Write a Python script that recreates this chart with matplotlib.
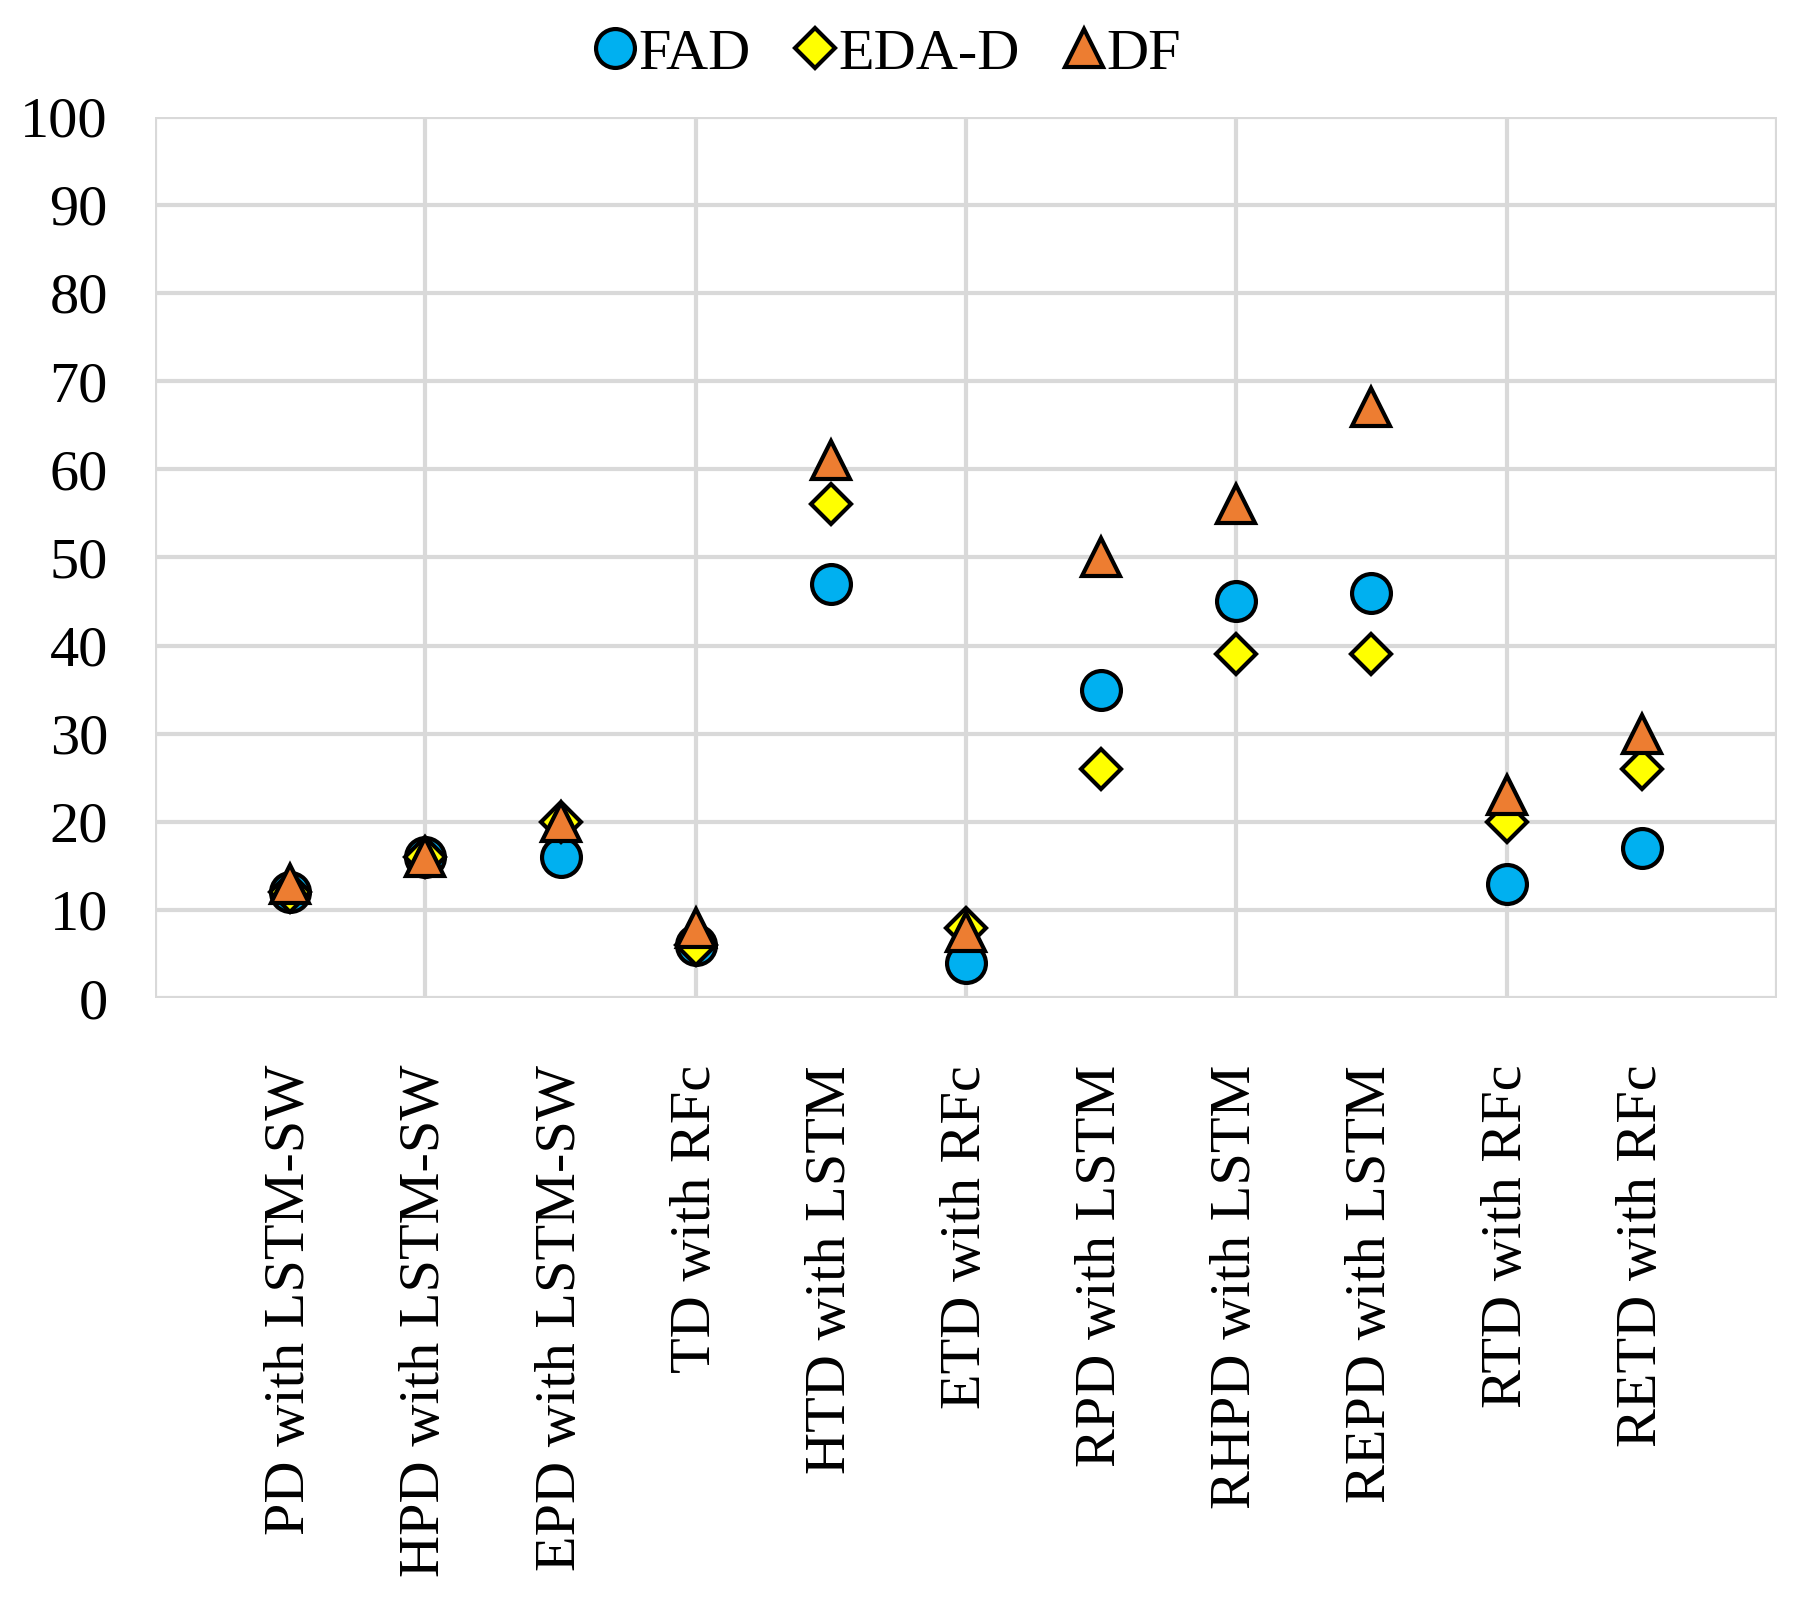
import numpy as np
import matplotlib.pyplot as plt

plt.rcParams['font.family'] = ['Liberation Serif', 'DejaVu Serif']

# Данные
categories = ['PD with LSTM-SW', 'HPD with LSTM-SW', 'EPD with LSTM-SW', 'TD with RFc',
              'HTD with LSTM', 'ETD with RFc', 'RPD with LSTM', 'RHPD with LSTM',
              'REPD with LSTM', 'RTD with RFc', 'RETD with RFc']
fad = [12, 16, 16, 6, 47, 4, 35, 45, 46, 13, 17]
eda_d = [12, 16, 20, 6, 56, 8, 26, 39, 39, 20, 26]
df = [13, 16, 20, 8, 61, 7.5, 50, 56, 67, 23, 30]

x = np.arange(1, len(categories) + 1)

fig = plt.figure(figsize=(18.15, 15.97), dpi=100)
ax = fig.add_axes([0.0855, 0.375, 0.8935, 0.552])

ax.plot(x, fad, 'o', ms=28, mfc='#00B0F0', mec='black', mew=3, label='FAD', zorder=3, clip_on=False)
ax.plot(x, eda_d, 'D', ms=20, mfc='#FFFF00', mec='black', mew=3, label='EDA-D', zorder=4, clip_on=False)
ax.plot(x, df, '^', ms=28, mfc='#ED7D31', mec='black', mew=3, label='DF', zorder=5, clip_on=False)

ax.set_xlim(0, 12)
ax.set_ylim(0, 100)
ax.set_yticks(np.arange(0, 101, 10))
ax.set_xticks(x)
ax.set_xticklabels(categories, rotation=90, ha='center', va='top')
ax.xaxis.remove_overlapping_locs = False
ax.set_xticks(np.arange(0, 13, 2), minor=True)
ax.grid(True, axis='y', which='major', color='#D9D9D9', lw=3, zorder=0)
ax.grid(True, axis='x', which='minor', color='#D9D9D9', lw=3, zorder=0)
ax.tick_params(axis='both', which='both', length=0, labelsize=42)
ax.tick_params(axis='y', pad=34)
ax.tick_params(axis='x', which='major', pad=48)
for s in ax.spines.values():
    s.set_visible(False)

fig.legend(loc='center', bbox_to_anchor=(0.486, 0.966), ncol=3, frameon=False,
           fontsize=42, handletextpad=-0.15, columnspacing=0.55, handlelength=1.1)

fig.savefig('out.png', dpi=100)
